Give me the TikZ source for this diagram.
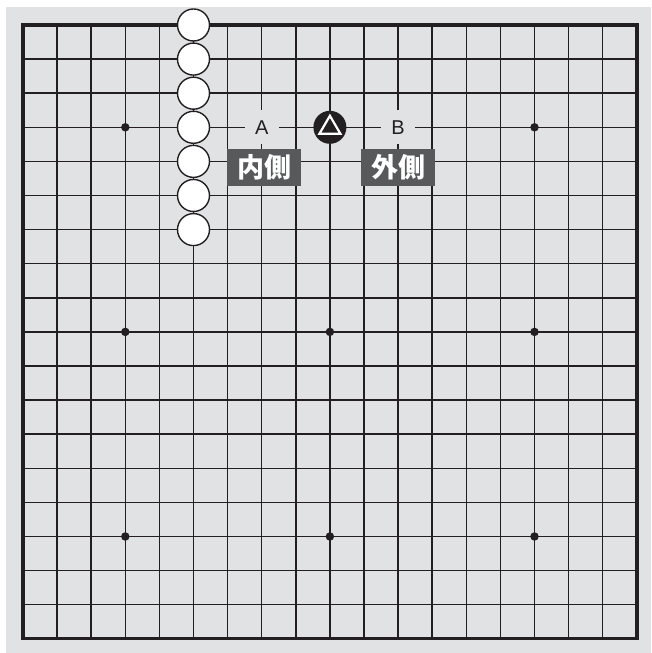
\documentclass[tikz,border=0pt]{standalone}
\usepackage{fontspec}
\setsansfont{Liberation Sans}
\newfontfamily\cjk{Noto Sans CJK JP}
\definecolor{bg}{HTML}{E1E2E4}
\definecolor{lab}{HTML}{58595B}
\definecolor{ln}{HTML}{231F20}
\tikzset{
  gridline/.style={draw=ln, line width=1.5pt},
  border/.style={draw=ln, line width=3.4pt},
  star/.style={circle, fill=ln, inner sep=0pt, minimum size=8.5pt},
  wstone/.style={circle, draw=ln, line width=1.4pt, fill=white, inner sep=0pt, minimum size=32pt},
  bstone/.style={circle, fill=ln, inner sep=0pt, minimum size=33pt},
  letter/.style={fill=bg, inner sep=0pt, minimum size=34pt, text=ln, font=\sffamily\fontsize{20}{20}\selectfont},
  tag/.style={fill=lab, text=white, inner sep=0pt, minimum width=74pt, minimum height=37pt, font=\cjk\bfseries\fontsize{27}{27}\selectfont}
}
\begin{document}
\begin{tikzpicture}[x=1pt,y=1pt]
\useasboundingbox (0,0) rectangle (651,653);
\fill[bg] (6,0) rectangle (651,646);
\begin{scope}[shift={(23,628)}, x=34.1pt, y=-34.1pt]
  \foreach \i in {1,...,17} {
    \draw[gridline] (\i,0) -- (\i,18);
    \draw[gridline] (0,\i) -- (18,\i);
  }
  \draw[border] (0,0) rectangle (18,18);
  \foreach \i in {3,9,15} \foreach \j in {3,9,15} \node[star] (s\i\j) at (\i,\j) {};
  \foreach \j in {0,...,6} \node[wstone] (w\j) at (5,\j) {};
  \node[bstone] (b) at (9,3) {};
  \draw[white, line width=2.2pt, line join=miter]
    ([yshift=11.5pt]b.center) -- ([xshift=-10.5pt,yshift=-6.5pt]b.center)
    -- ([xshift=10.5pt,yshift=-6.5pt]b.center) -- cycle;
  \node[letter] (A) at (7,3) {A};
  \node[letter] (B) at (11,3) {B};
  \node[tag] (in) at (7.07,4.18) {内側};
  \node[tag] (out) at (11,4.18) {外側};
\end{scope}
\end{tikzpicture}
\end{document}
